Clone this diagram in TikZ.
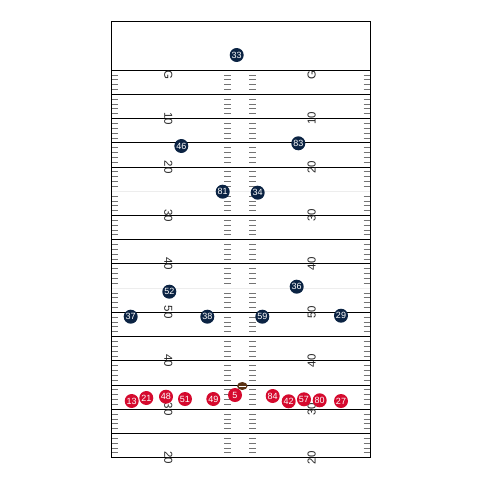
\documentclass[tikz,border=0pt]{standalone}
\usepackage{fontspec}
\setmainfont{Liberation Sans}
\usetikzlibrary{shapes.geometric}
\definecolor{navyc}{HTML}{0B2343}
\definecolor{redc}{HTML}{D50A2E}
\definecolor{ballc}{HTML}{5A3214}
\begin{document}
\begin{tikzpicture}[x=1pt,y=-1pt,
  yardline/.style={line width=0.9pt, black},
  hashtick/.style={line width=0.8pt, black!55},
  faintline/.style={line width=0.8pt, black!7},
  fieldnum/.style={font=\fontsize{11.5}{11.5}\selectfont, text=black!85, inner sep=0pt},
  navyp/.style={circle, fill=navyc, minimum size=14pt, inner sep=0pt, text=white, font=\fontsize{9}{9}\selectfont},
  redp/.style={circle, fill=redc, minimum size=14pt, inner sep=0pt, text=white, font=\fontsize{9}{9}\selectfont},
  ballnode/.style={ellipse, fill=ballc, minimum width=10.5pt, minimum height=8pt, inner sep=0pt}]
\useasboundingbox (0,0) rectangle (480,480);
% faint lines
\foreach \yd in {35,55} {
  \pgfmathsetmacro\yy{21.7+\yd*4.844}
  \draw[faintline] (111,\yy) -- (370,\yy);
}
% hash ticks
\foreach \yd in {11,...,89} {
  \pgfmathtruncatemacro\m{mod(\yd,5)}
  \ifnum\m=0\relax\else
    \pgfmathsetmacro\yy{21.7+\yd*4.844}
    \draw[hashtick] (111,\yy) -- (117.5,\yy);
    \draw[hashtick] (363.5,\yy) -- (370,\yy);
    \draw[hashtick] (224,\yy) -- (230.5,\yy);
    \draw[hashtick] (249,\yy) -- (255.5,\yy);
  \fi
}
% yard lines
\foreach \yd in {10,15,20,25,30,40,45,50,60,65,70,75,80,85} {
  \pgfmathsetmacro\yy{21.7+\yd*4.844}
  \draw[yardline] (111,\yy) -- (370,\yy);
}
% border
\draw[yardline] (111,21.7) rectangle (370,457.7);
% field numbers
\node[fieldnum, rotate=-90] (gl) at (168.3,75) {G};
\node[fieldnum, rotate=90] (gr) at (311.7,75) {G};
\foreach \yd/\t [count=\i] in {20/10,30/20,40/30,50/40,60/50,70/40,80/30,90/20} {
  \pgfmathsetmacro\yy{21.7+\yd*4.844}
  \node[fieldnum, rotate=-90] (nl\i) at (168.3,\yy) {\t};
  \node[fieldnum, rotate=90] (nr\i) at (311.7,\yy) {\t};
}
% ball
\node[ballnode] (ball) at (242.3,386) {};
\draw[white, line width=0.7pt] ([xshift=-3.8pt]ball.center) -- ([xshift=3.8pt]ball.center);
% navy team
\foreach \n/\x/\y in {33/236.7/55, 46/181.3/146, 83/298.3/143.3, 81/222.7/191.7, 34/257.7/192.7,
  52/169.3/291.7, 36/296.7/286.7, 37/130.7/316.7, 38/207.3/316.7, 59/262.3/316.7, 29/341/315.7} {
  \node[navyp] (d\n) at (\x,\y) {\n};
}
% red team
\foreach \n/\x/\y in {13/131.7/401, 21/146.3/398, 48/166/396.7, 51/185/399, 49/213.3/399, 5/235/395,
  84/272.7/396, 42/288.7/401.3, 57/304/399.3, 80/319.7/400.3, 27/341/401} {
  \node[redp] (r\n) at (\x,\y) {\n};
}
\end{tikzpicture}
\end{document}
